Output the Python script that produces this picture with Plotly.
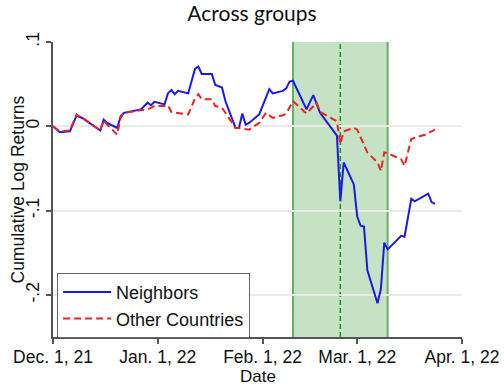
import plotly.graph_objects as go

# Cumulative log returns by group (trading days)
neighbors_dates = [
    "2021-12-01", "2021-12-03", "2021-12-06", "2021-12-08", "2021-12-09", "2021-12-10",
    "2021-12-15", "2021-12-16", "2021-12-17", "2021-12-20", "2021-12-21", "2021-12-22",
    "2021-12-27", "2021-12-29", "2021-12-30", "2021-12-31", "2022-01-03", "2022-01-04",
    "2022-01-05", "2022-01-06", "2022-01-07", "2022-01-10", "2022-01-12", "2022-01-13",
    "2022-01-14", "2022-01-17", "2022-01-18", "2022-01-20", "2022-01-21", "2022-01-24",
    "2022-01-25", "2022-01-26", "2022-01-27", "2022-01-28", "2022-01-31", "2022-02-03",
    "2022-02-04", "2022-02-07", "2022-02-08", "2022-02-09", "2022-02-10", "2022-02-14",
    "2022-02-16", "2022-02-18", "2022-02-23", "2022-02-24", "2022-02-25", "2022-02-28",
    "2022-03-01", "2022-03-02", "2022-03-03", "2022-03-04", "2022-03-07", "2022-03-08",
    "2022-03-09", "2022-03-10", "2022-03-14", "2022-03-15", "2022-03-17", "2022-03-18",
    "2022-03-22", "2022-03-23", "2022-03-24",
]
neighbors_values = [
    0.000, -0.007, -0.006, 0.013, 0.011, 0.009,
    -0.005, 0.008, 0.004, -0.002, 0.012, 0.016,
    0.020, 0.028, 0.025, 0.029, 0.026, 0.039,
    0.043, 0.038, 0.042, 0.039, 0.068, 0.071,
    0.062, 0.062, 0.049, 0.046, 0.030, -0.002,
    -0.002, 0.015, 0.002, 0.004, 0.014, 0.044,
    0.039, 0.042, 0.045, 0.053, 0.054, 0.020,
    0.037, 0.016, -0.011, -0.089, -0.043, -0.069,
    -0.107, -0.118, -0.119, -0.171, -0.210, -0.193,
    -0.138, -0.146, -0.130, -0.131, -0.086, -0.089,
    -0.080, -0.090, -0.092,
]

other_dates = [
    "2021-12-01", "2021-12-03", "2021-12-06", "2021-12-08", "2021-12-09", "2021-12-10",
    "2021-12-15", "2021-12-16", "2021-12-17", "2021-12-20", "2021-12-21", "2021-12-22",
    "2021-12-27", "2021-12-29", "2021-12-31", "2022-01-03", "2022-01-04", "2022-01-05",
    "2022-01-10", "2022-01-12", "2022-01-13", "2022-01-14", "2022-01-17", "2022-01-18",
    "2022-01-20", "2022-01-24", "2022-01-25", "2022-01-28", "2022-01-31", "2022-02-02",
    "2022-02-04", "2022-02-07", "2022-02-08", "2022-02-10", "2022-02-14", "2022-02-17",
    "2022-02-18", "2022-02-23", "2022-02-24", "2022-02-25", "2022-02-28", "2022-03-01",
    "2022-03-02", "2022-03-04", "2022-03-07", "2022-03-08", "2022-03-09", "2022-03-10",
    "2022-03-14", "2022-03-15", "2022-03-17", "2022-03-21", "2022-03-24",
]
other_values = [
    0.000, -0.006, -0.005, 0.014, 0.010, 0.009,
    -0.005, 0.007, 0.002, -0.010, 0.010, 0.016,
    0.019, 0.020, 0.024, 0.024, 0.025, 0.017,
    0.014, 0.033, 0.038, 0.032, 0.032, 0.024,
    0.022, -0.002, -0.002, -0.004, 0.004, 0.016,
    0.010, 0.013, 0.015, 0.030, 0.015, 0.028,
    0.017, 0.006, -0.021, -0.006, -0.002, -0.004,
    -0.013, -0.031, -0.043, -0.053, -0.031, -0.032,
    -0.039, -0.047, -0.015, -0.010, -0.004,
]

# Event window and invasion date
window_start = "2022-02-10"
window_end = "2022-03-10"
event_date = "2022-02-24"

x_ticks = ["2021-12-01", "2022-01-01", "2022-02-01", "2022-03-01", "2022-04-01"]
x_tick_labels = ["Dec. 1, 21", "Jan. 1, 22", "Feb. 1, 22", "Mar. 1, 22", "Apr. 1, 22"]
y_ticks = [0.1, 0.0, -0.1, -0.2]
y_tick_labels = [".1", "0", "-.1", "-.2"]

FONT = "Liberation Sans, Arial, sans-serif"

fig = go.Figure()
fig.add_trace(go.Scatter(
    x=neighbors_dates, y=neighbors_values, mode="lines", name="Neighbors",
    line=dict(color="#1a1ae6", width=2),
))
fig.add_trace(go.Scatter(
    x=other_dates, y=other_values, mode="lines", name="Other Countries",
    line=dict(color="#ee2222", width=2, dash="7px,4px"),
))

# Shaded event window
fig.add_shape(
    type="rect", xref="x", yref="paper",
    x0=window_start, x1=window_end, y0=0, y1=1,
    fillcolor="rgba(110,182,108,0.4)", line=dict(width=0), layer="below",
)
for edge in (window_start, window_end):
    fig.add_shape(
        type="line", xref="x", yref="paper", x0=edge, x1=edge, y0=0, y1=1,
        line=dict(color="#62b060", width=2), layer="below",
    )
fig.add_shape(
    type="line", xref="x", yref="paper", x0=event_date, x1=event_date, y0=0, y1=1,
    line=dict(color="#1e961e", width=1.5, dash="5px,3px"), layer="below",
)

# Axis titles
fig.add_annotation(
    text="Date", xref="paper", yref="paper", x=0.5, y=-0.168,
    xanchor="center", yanchor="bottom", showarrow=False, borderpad=0,
    font=dict(family=FONT, size=17, color="#111"),
)
fig.add_annotation(
    text="Cumulative Log Returns", xref="paper", yref="paper", x=-0.088, y=0.5,
    xanchor="center", yanchor="middle", showarrow=False, textangle=-90,
    font=dict(family=FONT, size=17.5, color="#111"),
)

fig.update_layout(
    width=504, height=386,
    margin=dict(l=53, r=42, t=42, b=49),
    paper_bgcolor="white", plot_bgcolor="white",
    font=dict(family=FONT, size=17, color="#111"),
    title=dict(text="Across groups", x=0.5, xref="container", xanchor="center",
               y=0.965, yref="container", yanchor="middle",
               font=dict(family="Lato, sans-serif", size=21, color="#111")),
    showlegend=True,
    legend=dict(
        x=0.01, y=-0.003, xanchor="left", yanchor="bottom",
        bgcolor="white", bordercolor="#666", borderwidth=1,
        font=dict(family=FONT, size=18, color="#111"),
        itemwidth=48, tracegroupgap=0,
    ),
    xaxis=dict(
        type="date", range=["2021-12-01", "2022-04-01"],
        tickvals=x_ticks, ticktext=x_tick_labels, automargin=False,
        ticks="outside", ticklen=5, tickwidth=1.5, tickcolor="#555",
        ticklabelstandoff=-2,
        showline=True, linecolor="#555", linewidth=1.5,
        showgrid=False, zeroline=False,
        tickfont=dict(size=17.5),
    ),
    yaxis=dict(
        range=[-0.25, 0.1], automargin=False,
        tickvals=y_ticks, ticktext=y_tick_labels, tickangle=-90,
        ticks="outside", ticklen=5, tickwidth=1.5, tickcolor="#555",
        showline=True, linecolor="#555", linewidth=1.5,
        showgrid=True, gridcolor="#ebebeb", gridwidth=1.5, zeroline=False,
        tickfont=dict(size=17.5),
    ),
)

fig.write_html("out.html")
